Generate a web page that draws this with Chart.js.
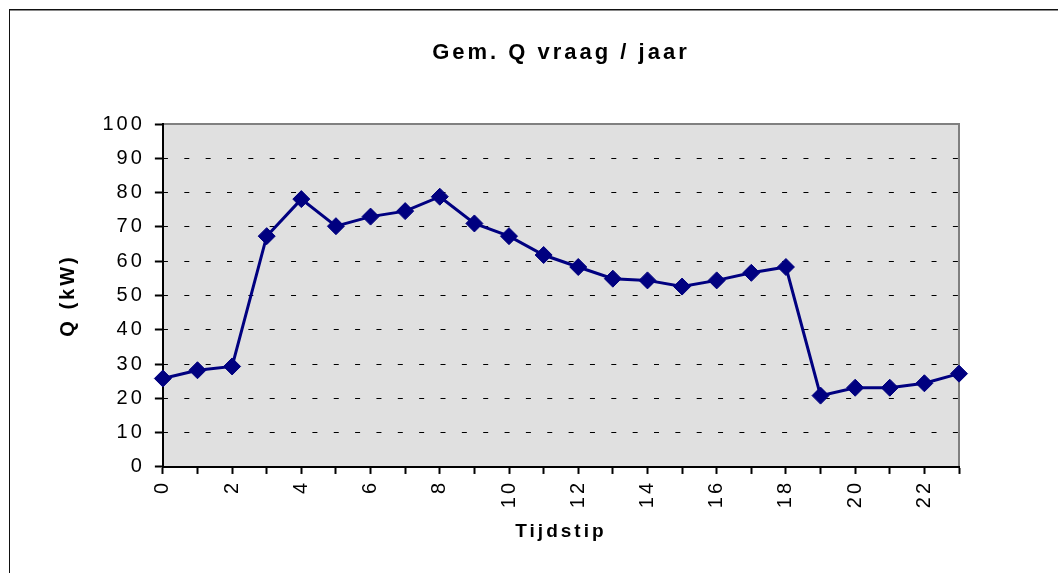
<!DOCTYPE html>
<html>
<head>
<meta charset="utf-8">
<script src="https://cdn.jsdelivr.net/npm/chart.js@4/dist/chart.umd.min.js"></script>
<style>
  body { margin: 0; background: #fff; }
  canvas { display: block; }
</style>
</head>
<body>
<canvas id="myChart" width="1058" height="573"></canvas>
<script>
// uren van de dag (x-as) en gemiddelde warmtevraag in kW
const tijdstippen = [0, 1, 2, 3, 4, 5, 6, 7, 8, 9, 10, 11, 12, 13, 14, 15, 16, 17, 18, 19, 20, 21, 22, 23]
const vraag = [25.8, 28.2, 29.3, 67.3, 78.1, 70.2, 73.0, 74.6, 78.8, 71.0, 67.3, 61.8,
               58.3, 54.9, 54.4, 52.6, 54.4, 56.6, 58.3, 20.8, 23.1, 23.1, 24.4, 27.2]
const yTicks = [0, 10, 20, 30, 40, 50, 60, 70, 80, 90, 100]

const titel = 'Gem. Q vraag / jaar'
const xTitel = 'Tijdstip'
const yTitel = 'Q (kW)'

const ctx = document.getElementById('myChart').getContext('2d');

// grijze plotvlak achtergrond + kader om de figuur
const achtergrond = {
    id: 'achtergrond',
    beforeLayout(chart) {
        chart.ctx.letterSpacing = '3px'
    },
    beforeDraw(chart) {
        const c = chart.ctx
        const a = chart.chartArea
        c.save()
        c.fillStyle = '#ffffff'
        c.fillRect(0, 0, chart.width, chart.height)
        // kader (alleen links en boven zichtbaar)
        c.fillStyle = '#111111'
        c.fillRect(9, 9, chart.width - 9, 1)
        c.fillRect(9, 9, 1, chart.height - 9)
        c.fillStyle = '#8a8a8a'
        c.fillRect(10, 10, chart.width - 10, 1)
        // plotvlak
        c.fillStyle = '#e0e0e0'
        c.fillRect(a.left, a.top, a.right - a.left, a.bottom - a.top)
        c.fillStyle = '#808080'
        c.fillRect(a.left, a.top - 1, a.right - a.left + 1, 2)
        c.fillRect(a.right - 1, a.top - 1, 2, a.bottom - a.top + 1)
        c.restore()
        c.letterSpacing = '3px'
    }
}

const myChart = new Chart(ctx, {
    type: 'line',
    data: {
        labels: tijdstippen,
        datasets: [{
            label: 'Q vraag',
            data: vraag,
            borderColor: '#000080',
            backgroundColor: '#000080',
            borderWidth: 3,
            tension: 0,
            pointStyle: 'rectRot',
            pointRadius: 8.5,
            pointBackgroundColor: '#000080',
            pointBorderColor: '#000080',
            pointBorderWidth: 1,
            clip: false
        }]
    },
    options: {
        responsive: false,
        animation: false,
        layout: { padding: { left: 56.5, right: 99, top: 10, bottom: 30 } },
        plugins: {
            legend: { display: false },
            tooltip: { enabled: false },
            title: {
                display: true,
                fullSize: false,
                text: titel,
                color: '#000',
                font: { family: 'Liberation Sans, Arial, sans-serif', size: 22, weight: 'bold', lineHeight: 1.2 },
                padding: { top: 29.4, bottom: 58.2 }
            }
        },
        scales: {
            x: {
                offset: false,
                grid: {
                    drawOnChartArea: false,
                    drawTicks: true,
                    tickLength: 7,
                    tickColor: '#000',
                    tickWidth: 2
                },
                border: { display: true, color: '#000', width: 2 },
                ticks: {
                    autoSkip: false,
                    minRotation: 90,
                    maxRotation: 90,
                    padding: 6,
                    color: '#000',
                    font: { family: 'Liberation Sans, Arial, sans-serif', size: 20 },
                    callback: (v, i) => i % 2 ? '' : String(tijdstippen[i])
                },
                title: {
                    display: true,
                    text: xTitel,
                    color: '#000',
                    font: { family: 'Liberation Sans, Arial, sans-serif', size: 19, weight: 'bold', lineHeight: 1.2 },
                    padding: { top: 6, bottom: 0 }
                }
            },
            y: {
                min: 0,
                max: 100,
                afterBuildTicks: (axis) => { axis.ticks = yTicks.map(v => ({ value: v })) },
                grid: {
                    color: (c) => (c.tick && (c.tick.value === 0 || c.tick.value === 100)) ? 'rgba(0,0,0,0)' : '#000',
                    lineWidth: 1,
                    drawTicks: true,
                    tickLength: 8,
                    tickColor: '#000',
                    tickWidth: 2,
                    tickBorderDash: []
                },
                border: { display: true, color: '#000', width: 2, dash: [5, 16.35], dashOffset: 1.05 },
                ticks: {
                    padding: 10,
                    color: '#000',
                    font: { family: 'Liberation Sans, Arial, sans-serif', size: 20 }
                },
                title: {
                    display: true,
                    text: yTitel,
                    color: '#000',
                    font: { family: 'Liberation Sans, Arial, sans-serif', size: 20, weight: 'bold', lineHeight: 1.2 },
                    padding: { top: 0, bottom: 12 }
                }
            }
        }
    },
    plugins: [achtergrond]
});
</script>
</body>
</html>
